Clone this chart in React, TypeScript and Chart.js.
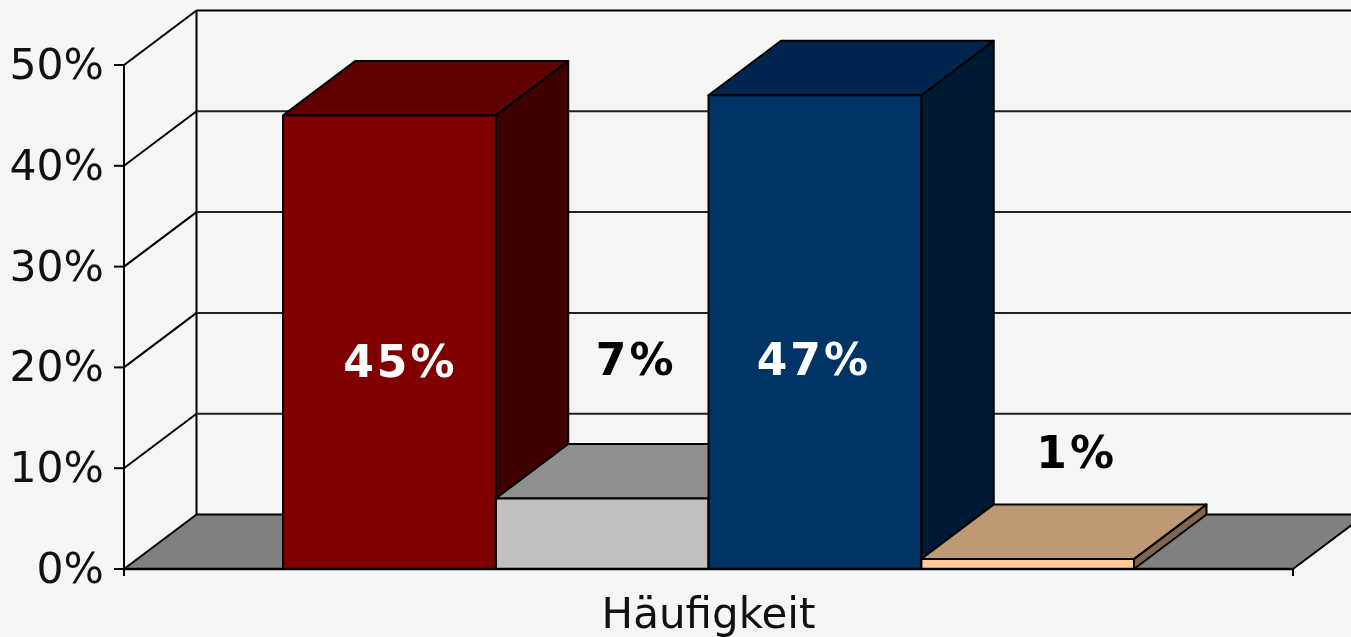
import React, { useEffect, useRef } from "react";
import { Chart, registerables } from "chart.js";

Chart.register(...registerables);

const categories = ["Häufigkeit"];
const seriesNames = ["A", "B", "C", "D"];
const seriesValues = [45, 7, 47, 1];
const yTicks = [0, 10, 20, 30, 40, 50];

const frontColors = ["#800000", "#c0c0c0", "#003366", "#ffcc99"];
const topColors = ["#600000", "#909090", "#002650", "#bf9973"];
const sideColors = ["#400000", "#606060", "#001a33", "#806650"];
const labelColors = ["#ffffff", "#000000", "#ffffff", "#000000"];

// Label placement relative to each bar: horizontal shift in px, vertical anchor in axis units.
const labelShift = [11, 34, -1, 49];
const labelAnchor = [20.2, 20.4, 20.4, 11.2];

const BG = "#f5f5f5";
const FLOOR = "#808080";
const INK = "#000000";
const DX = 72.5;
const DY = 54.5;

const poly = (ctx: CanvasRenderingContext2D, pts: number[][], fill: string | null, lw = 2) => {
  ctx.beginPath();
  pts.forEach((p, i) => (i ? ctx.lineTo(p[0], p[1]) : ctx.moveTo(p[0], p[1])));
  ctx.closePath();
  if (fill) {
    ctx.fillStyle = fill;
    ctx.fill();
  }
  ctx.lineWidth = lw;
  ctx.strokeStyle = INK;
  ctx.lineJoin = "round";
  ctx.stroke();
};

const seg = (ctx: CanvasRenderingContext2D, x1: number, y1: number, x2: number, y2: number, lw = 2, color = INK) => {
  ctx.beginPath();
  ctx.moveTo(x1, y1);
  ctx.lineTo(x2, y2);
  ctx.lineWidth = lw;
  ctx.strokeStyle = color;
  ctx.stroke();
};

const box3d = {
  id: "box3d",
  beforeDatasetsDraw(chart: any) {
    const { ctx, chartArea, scales, width } = chart;
    const { left, right, bottom } = chartArea;
    const y = scales.y;
    ctx.save();
    // Walls
    const top = y.getPixelForValue(yTicks[yTicks.length - 1]);
    seg(ctx, left, top, left, bottom + 7);
    seg(ctx, left + DX, top - DY, left + DX, bottom - DY);
    yTicks.forEach((v) => {
      const py = y.getPixelForValue(v);
      seg(ctx, left - 10, py, left, py);
      if (v !== 0) {
        seg(ctx, left, py, left + DX, py - DY, 2);
        seg(ctx, left + DX, py - DY, width, py - DY, 2, v === 50 ? INK : "#222222");
      }
    });
    seg(ctx, right, bottom, right, bottom + 7);
    // Floor
    poly(ctx, [[left, bottom], [left + DX, bottom - DY], [right + DX, bottom - DY], [right, bottom]], FLOOR);
    // Top and side faces of the bars, left to right
    chart.data.datasets.forEach((_: any, i: number) => {
      const bar = chart.getDatasetMeta(i).data[0];
      const x0 = bar.x - bar.width / 2;
      const x1 = bar.x + bar.width / 2;
      poly(ctx, [[x1, bar.y], [x1 + DX, bar.y - DY], [x1 + DX, bar.base - DY], [x1, bar.base]], sideColors[i]);
      poly(ctx, [[x0, bar.y], [x0 + DX, bar.y - DY], [x1 + DX, bar.y - DY], [x1, bar.y]], topColors[i]);
    });
    ctx.restore();
  },
  afterDatasetsDraw(chart: any) {
    const { ctx, chartArea, scales } = chart;
    ctx.save();
    // Outline of the front faces
    chart.data.datasets.forEach((_: any, i: number) => {
      const bar = chart.getDatasetMeta(i).data[0];
      const x0 = bar.x - bar.width / 2;
      const x1 = bar.x + bar.width / 2;
      poly(ctx, [[x0, bar.y], [x1, bar.y], [x1, bar.base], [x0, bar.base]], null, 2);
    });
    seg(ctx, chartArea.left, chartArea.bottom, chartArea.right, chartArea.bottom, 2.4);
    ctx.font = 'bold 44px "DejaVu Sans"';
    (ctx as any).letterSpacing = "3px";
    ctx.textAlign = "center";
    ctx.textBaseline = "middle";
    seriesValues.forEach((v, i) => {
      const bar = chart.getDatasetMeta(i).data[0];
      ctx.fillStyle = labelColors[i];
      ctx.fillText(`${v}%`, bar.x + labelShift[i], scales.y.getPixelForValue(labelAnchor[i]));
    });
    ctx.restore();
  },
};

export default function App() {
  const ref = useRef<HTMLCanvasElement>(null);
  useEffect(() => {
    const chart = new Chart(ref.current!, {
      type: "bar",
      data: {
        labels: categories,
        datasets: seriesNames.map((label, i) => ({
          label,
          data: [seriesValues[i]],
          backgroundColor: frontColors[i],
          borderWidth: 0,
          categoryPercentage: 851 / 1169,
          barPercentage: 1,
        })),
      },
      options: {
        responsive: false,
        animation: false,
        layout: { padding: { left: 0, right: 58, top: 65, bottom: 0 } },
        plugins: { legend: { display: false }, title: { display: false }, tooltip: { enabled: false } },
        scales: {
          x: {
            grid: { display: false, drawTicks: false },
            border: { display: false },
            ticks: { color: "#111111", font: { family: "DejaVu Sans", size: 42 }, padding: 23 },
            afterFit: (s: any) => {
              s.height = 68;
            },
          },
          y: {
            min: 0,
            max: 50,
            grid: { display: false, drawTicks: false },
            border: { display: false },
            ticks: {
              stepSize: 10,
              padding: 20,
              labelOffset: 3,
              color: "#111111",
              font: { family: "DejaVu Sans", size: 42.5 },
              callback: (v: any) => `${v}%`,
            },
            afterFit: (s: any) => {
              s.width = 124;
            },
          },
        },
      },
      plugins: [box3d],
    } as any);
    return () => chart.destroy();
  }, []);
  return (
    <div style={{ position: "fixed", left: 0, top: 0, width: 1351, height: 637, background: BG }}>
      <canvas ref={ref} width={1351} height={637} style={{ display: "block" }} />
    </div>
  );
}
